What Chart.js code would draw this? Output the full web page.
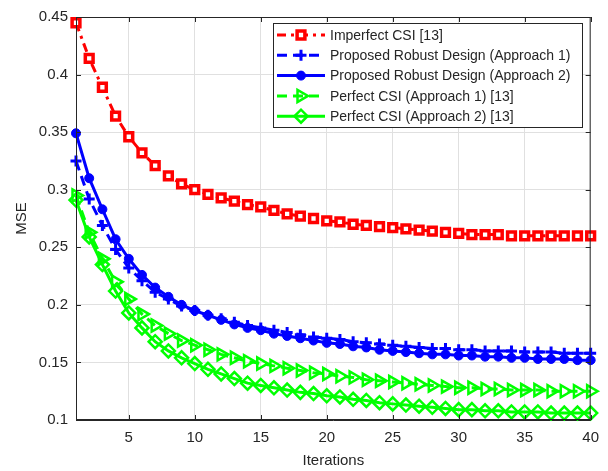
<!DOCTYPE html>
<html>
<head>
<meta charset="utf-8">
<script src="https://cdn.jsdelivr.net/npm/chart.js@4.4.1/dist/chart.umd.min.js"></script>
<style>
  html, body { margin: 0; padding: 0; background: #fff; }
  #wrap { width: 608px; height: 471px; position: relative; }
</style>
</head>
<body>
<div id="wrap"><canvas id="mse"></canvas></div>
<script>
const iterations = [1,2,3,4,5,6,7,8,9,10,11,12,13,14,15,16,17,18,19,20,21,22,23,24,25,26,27,28,29,30,31,32,33,34,35,36,37,38,39,40];
const xTicks = [5,10,15,20,25,30,35,40];
const yTicks = [0.1,0.15,0.2,0.25,0.3,0.35,0.4,0.45];

const imperfectCsi = [0.445,0.414,0.389,0.364,0.346,0.332,0.321,0.312,0.305,0.300,0.296,0.293,0.290,0.287,0.285,0.282,0.279,0.277,0.275,0.273,0.272,0.270,0.269,0.268,0.267,0.266,0.265,0.264,0.263,0.262,0.261,0.261,0.261,0.260,0.260,0.260,0.260,0.260,0.260,0.260];
const robustAppr1 = [0.325,0.292,0.269,0.248,0.232,0.221,0.211,0.205,0.199,0.195,0.191,0.188,0.185,0.182,0.180,0.178,0.176,0.174,0.172,0.171,0.170,0.168,0.167,0.166,0.165,0.164,0.163,0.162,0.162,0.161,0.161,0.160,0.160,0.160,0.159,0.159,0.159,0.158,0.158,0.158];
const robustAppr2 = [0.349,0.310,0.283,0.257,0.240,0.226,0.215,0.207,0.200,0.195,0.191,0.187,0.183,0.180,0.178,0.175,0.173,0.171,0.169,0.167,0.166,0.164,0.163,0.161,0.160,0.159,0.158,0.157,0.157,0.156,0.156,0.155,0.155,0.154,0.154,0.153,0.153,0.153,0.152,0.152];
const perfectAppr1 = [0.295,0.263,0.240,0.220,0.205,0.192,0.182,0.175,0.169,0.165,0.161,0.157,0.154,0.151,0.149,0.147,0.145,0.143,0.141,0.140,0.138,0.137,0.135,0.134,0.133,0.132,0.131,0.130,0.129,0.128,0.128,0.127,0.127,0.126,0.126,0.126,0.125,0.125,0.125,0.125];
const perfectAppr2 = [0.291,0.259,0.235,0.212,0.193,0.180,0.168,0.160,0.154,0.149,0.144,0.140,0.136,0.132,0.130,0.128,0.126,0.124,0.123,0.121,0.120,0.118,0.117,0.115,0.114,0.113,0.112,0.111,0.110,0.109,0.109,0.108,0.108,0.107,0.107,0.107,0.106,0.106,0.106,0.106];

const FONT = '"Liberation Sans", Arial, Helvetica, sans-serif';
const AXIS = '#262626';
const GRID = '#e0e0e0';

const pts = arr => iterations.map((x, i) => ({ x: x, y: arr[i] }));

const datasets = [
  { label: 'Imperfect CSI [13]', data: pts(imperfectCsi), borderColor: '#ff0000', backgroundColor: '#ffffff',
    borderDash: [9, 5, 3, 5], pointStyle: 'rect', pointRadius: 5.5, pointBorderWidth: 3.5 },
  { label: 'Proposed Robust Design (Approach 1)', data: pts(robustAppr1), borderColor: '#0000ff', backgroundColor: '#0000ff',
    borderDash: [10, 6], pointStyle: 'cross', pointRadius: 5.5, pointBorderWidth: 3 },
  { label: 'Proposed Robust Design (Approach 2)', data: pts(robustAppr2), borderColor: '#0000ff', backgroundColor: '#0000ff',
    borderDash: [], pointStyle: 'circle', pointRadius: 4.5, pointBorderWidth: 1 },
  { label: 'Perfect CSI (Approach 1) [13]', data: pts(perfectAppr1), borderColor: '#00ff00', backgroundColor: 'rgba(0,0,0,0)',
    borderDash: [10, 6], pointStyle: 'triangle', pointRotation: 90, pointRadius: 7, pointBorderWidth: 2.5 },
  { label: 'Perfect CSI (Approach 2) [13]', data: pts(perfectAppr2), borderColor: '#00ff00', backgroundColor: 'rgba(0,0,0,0)',
    borderDash: [], pointStyle: 'rectRot', pointRadius: 6.5, pointBorderWidth: 2.5 }
].map(d => Object.assign({ borderWidth: 3, tension: 0, clip: false, fill: false,
  pointBackgroundColor: d.backgroundColor, pointBorderColor: d.borderColor }, d));

// box, inward ticks and the legend, drawn the way the MATLAB figure has them
const matlabFrame = {
  id: 'matlabFrame',
  afterDraw(chart) {
    const { ctx, chartArea: a, scales } = chart;
    ctx.save();
    ctx.strokeStyle = AXIS;
    ctx.lineWidth = 1;
    ctx.strokeRect(a.left + 0.5, a.top + 0.5, a.right - a.left - 1, a.bottom - a.top - 1);
    ctx.beginPath();
    xTicks.forEach(v => {
      const px = Math.round(scales.x.getPixelForValue(v)) + 0.5;
      ctx.moveTo(px, a.bottom); ctx.lineTo(px, a.bottom - 5);
      ctx.moveTo(px, a.top); ctx.lineTo(px, a.top + 5);
    });
    yTicks.forEach(v => {
      const py = Math.round(scales.y.getPixelForValue(v)) + 0.5;
      ctx.moveTo(a.left, py); ctx.lineTo(a.left + 5, py);
      ctx.moveTo(a.right, py); ctx.lineTo(a.right - 5, py);
    });
    ctx.stroke();

    // legend
    const lx = 273, ly = 23, lw = 309, lh = 104, row = 20.3;
    ctx.fillStyle = '#ffffff';
    ctx.fillRect(lx, ly, lw, lh);
    ctx.strokeStyle = AXIS;
    ctx.strokeRect(lx + 0.5, ly + 0.5, lw, lh);
    ctx.font = '14px ' + FONT;
    ctx.textBaseline = 'middle';
    chart.data.datasets.forEach((d, i) => {
      const y = ly + 12 + i * row;
      ctx.strokeStyle = d.borderColor;
      ctx.lineWidth = d.borderWidth;
      ctx.setLineDash(d.borderDash);
      ctx.beginPath(); ctx.moveTo(lx + 4, y); ctx.lineTo(lx + 52, y); ctx.stroke();
      ctx.setLineDash([]);
      ctx.fillStyle = d.pointBackgroundColor;
      ctx.lineWidth = d.pointBorderWidth;
      Chart.helpers.drawPoint(ctx, { pointStyle: d.pointStyle, rotation: d.pointRotation || 0,
        radius: d.pointRadius, borderWidth: d.pointBorderWidth }, lx + 28, y);
      ctx.fillStyle = AXIS;
      ctx.fillText(d.label, lx + 57, y + 1);
    });
    ctx.restore();
  }
};

new Chart(document.getElementById('mse'), {
  type: 'line',
  data: { datasets: datasets },
  options: {
    responsive: true,
    maintainAspectRatio: false,
    animation: false,
    layout: { padding: { left: 0, top: 13, right: 15, bottom: 0 } },
    plugins: { legend: { display: false }, tooltip: { enabled: false } },
    scales: {
      x: {
        type: 'linear', min: 1, max: 40,
        afterBuildTicks: s => { s.ticks = xTicks.map(v => ({ value: v })); },
        afterFit: s => { s.height = 51; },
        grid: { color: GRID, drawTicks: false },
        border: { color: AXIS },
        ticks: { color: AXIS, font: { family: FONT, size: 15 }, padding: 9, maxRotation: 0 },
        title: { display: true, text: 'Iterations', color: AXIS, font: { family: FONT, size: 15 }, padding: { top: 0, bottom: 1 } }
      },
      y: {
        type: 'linear', min: 0.1, max: 0.45,
        afterBuildTicks: s => { s.ticks = yTicks.map(v => ({ value: v })); },
        afterFit: s => { s.width = 76; },
        grid: { color: GRID, drawTicks: false },
        border: { color: AXIS },
        ticks: { color: AXIS, font: { family: FONT, size: 15 }, padding: 8,
          callback: v => String(+v.toFixed(2)) },
        title: { display: true, text: 'MSE', color: AXIS, font: { family: FONT, size: 15 }, padding: { top: 13, bottom: 0 } }
      }
    }
  },
  plugins: [matlabFrame]
});
</script>
</body>
</html>
